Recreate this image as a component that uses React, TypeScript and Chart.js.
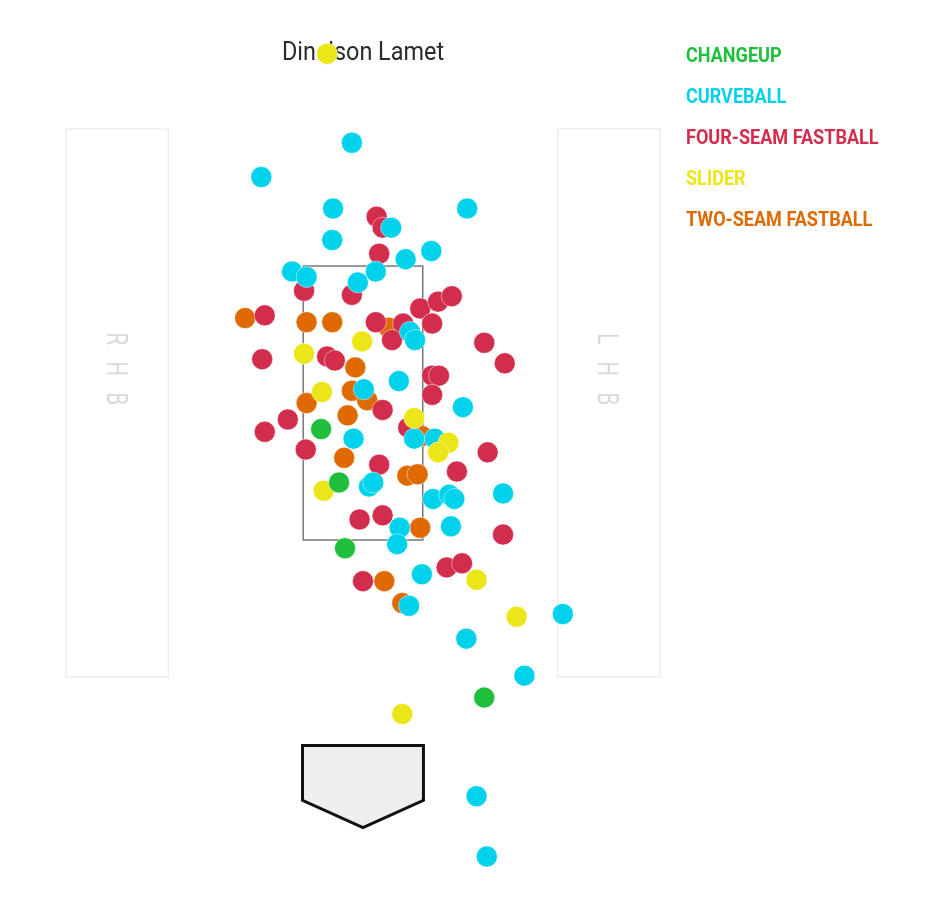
import React, { useEffect, useRef } from "react";
import { Chart, registerables } from "chart.js";

Chart.register(...registerables);

// ---------- data (plate location, feet; catcher's view) ----------
const pitcherName = "Dinelson Lamet";
const pitchTypes = ["CHANGEUP", "CURVEBALL", "FOUR-SEAM FASTBALL", "SLIDER", "TWO-SEAM FASTBALL"];
const pitchColors = ["#1fbe3b", "#00d2ec", "#d22d4c", "#ece618", "#e06a02"];

const changeupX = [-0.49, -0.28, -0.21, 1.42];
const changeupZ = [2.31, 1.92, 1.44, 0.35];

const curveballX = [-0.13, -1.19, -0.35, 1.22, 0.33, -0.36, 0.8, 0.5, -0.83, -0.66, 0.15, -0.06, 0.55, 0.61, 0.42, 0.01, 1.17, -0.11, 0.6, 0.84, 0.07, 0.12, 0.82, 1.01, 1.07, 1.64, 0.43, 1.03, 0.4, 0.69, 0.54, 2.34, 1.21, 1.89, 1.33, 1.45];
const curveballZ = [4.4, 4.15, 3.92, 3.92, 3.78, 3.69, 3.61, 3.55, 3.46, 3.42, 3.46, 3.38, 3.02, 2.96, 2.66, 2.6, 2.47, 2.24, 2.24, 2.24, 1.89, 1.92, 1.8, 1.83, 1.8, 1.84, 1.59, 1.6, 1.47, 1.25, 1.02, 0.96, 0.78, 0.51, -0.37, -0.81];

const fourSeamX = [0.16, 0.23, 0.19, -0.69, -0.13, 0.67, 0.88, 1.04, -1.15, 0.15, 0.47, 0.81, 0.34, 1.42, 1.66, -1.18, -0.42, -0.33, 0.81, 0.89, 0.81, 0.23, -0.88, -1.15, 0.53, -0.67, 1.46, 0.19, 1.1, -0.04, 0.23, 1.64, 0.0, 0.98, 1.16];
const fourSeamZ = [3.86, 3.78, 3.59, 3.32, 3.29, 3.19, 3.24, 3.28, 3.14, 3.09, 3.08, 3.08, 2.96, 2.94, 2.79, 2.82, 2.84, 2.81, 2.7, 2.7, 2.56, 2.45, 2.38, 2.29, 2.32, 2.16, 2.14, 2.05, 2.0, 1.65, 1.68, 1.54, 1.2, 1.3, 1.33];

const sliderX = [-0.42, -0.01, -0.69, -0.48, 0.6, 1.0, 0.88, -0.46, 1.33, 1.8, 0.46];
const sliderZ = [5.05, 2.95, 2.86, 2.58, 2.39, 2.21, 2.14, 1.86, 1.21, 0.94, 0.23];

const twoSeamX = [-1.38, -0.66, -0.36, 0.3, -0.09, -0.13, 0.05, -0.66, -0.18, 0.69, -0.22, 0.52, 0.64, 0.67, 0.25, 0.46];
const twoSeamZ = [3.12, 3.09, 3.09, 3.05, 2.76, 2.59, 2.52, 2.5, 2.41, 2.26, 2.1, 1.97, 1.98, 1.59, 1.2, 1.04];

const seriesX = [changeupX, curveballX, fourSeamX, sliderX, twoSeamX];
const seriesZ = [changeupZ, curveballZ, fourSeamZ, sliderZ, twoSeamZ];
// drawing order: lower = on top
const drawOrder = [0, 2, 3, 1, 4];

// field geometry (feet)
const zoneX = [-0.7, 0.7];
const zoneZ = [1.5, 3.5];
const plateX = [-0.708, 0.708, 0.708, 0, -0.708];
const plateZ = [0, 0, -0.4, -0.6, -0.4];
const boxX = [2.28, 3.48];
const boxZ = [0.5, 4.5];
const boxLabels = ["RHB", "LHB"];
const boxLabelZ = 2.75;

const backdropPlugin = {
  id: "backdrop",
  beforeDatasetsDraw(chart: any) {
    const { ctx } = chart;
    const xs = chart.scales.x;
    const ys = chart.scales.y;
    const px = (v: number) => xs.getPixelForValue(v);
    const py = (v: number) => ys.getPixelForValue(v);
    ctx.save();

    // batter's boxes
    [-1, 1].forEach((side, i) => {
      const a = px(side * boxX[0]);
      const b = px(side * boxX[1]);
      const l = Math.min(a, b);
      const w = Math.abs(b - a);
      const t = py(boxZ[1]);
      const h = py(boxZ[0]) - t;
      ctx.strokeStyle = "#ededed";
      ctx.lineWidth = 1.5;
      ctx.strokeRect(l, t, w, h);

      // vertical label
      const cx = (a + b) / 2;
      const cy = py(boxLabelZ);
      const letters = boxLabels[i].split("");
      const step = 30;
      ctx.fillStyle = "#d9d9d9";
      ctx.font = "400 30px Roboto";
      ctx.textAlign = "center";
      ctx.textBaseline = "alphabetic";
      letters.forEach((ch, k) => {
        const ly = cy + (k - (letters.length - 1) / 2) * step;
        ctx.save();
        ctx.translate(cx, ly);
        ctx.rotate(Math.PI / 2);
        ctx.scale(0.68, 1);
        ctx.fillText(ch, 0, 10.5);
        ctx.restore();
      });
    });

    // strike zone
    ctx.strokeStyle = "#777777";
    ctx.lineWidth = 1.5;
    const zl = px(zoneX[0]);
    const zt = py(zoneZ[1]);
    ctx.strokeRect(zl, zt, px(zoneX[1]) - zl, py(zoneZ[0]) - zt);

    // home plate
    ctx.beginPath();
    plateX.forEach((v, k) => {
      const X = px(v);
      const Y = py(plateZ[k]);
      if (k === 0) ctx.moveTo(X, Y);
      else ctx.lineTo(X, Y);
    });
    ctx.closePath();
    ctx.fillStyle = "#eeeeee";
    ctx.fill();
    ctx.strokeStyle = "#111111";
    ctx.lineWidth = 3;
    ctx.lineJoin = "miter";
    ctx.stroke();

    // title
    ctx.fillStyle = "#2a2a2a";
    ctx.font = "400 26px Roboto";
    ctx.textAlign = "center";
    ctx.textBaseline = "alphabetic";
    ctx.save();
    ctx.translate(px(0), 60);
    ctx.scale(0.9, 1);
    ctx.fillText(pitcherName, 0, 0);
    ctx.restore();

    ctx.restore();
  },
  afterDraw(chart: any) {
    const { ctx } = chart;
    ctx.save();
    ctx.font = "bold 21px Roboto";
    ctx.textAlign = "left";
    ctx.textBaseline = "alphabetic";
    chart.data.datasets.forEach((ds: any, i: number) => {
      ctx.fillStyle = ds.backgroundColor;
      ctx.save();
      ctx.translate(686, 62 + i * 41);
      ctx.scale(0.86, 1);
      ctx.fillText(ds.label, 0, 0);
      ctx.restore();
    });
    ctx.restore();
  },
};

export default function App() {
  const canvasRef = useRef<HTMLCanvasElement | null>(null);

  useEffect(() => {
    if (!canvasRef.current) return;
    const datasets = pitchTypes.map((name, i) => ({
      label: name,
      data: seriesX[i].map((x, k) => ({ x, y: seriesZ[i][k] })),
      backgroundColor: pitchColors[i],
      borderColor: "rgba(255,255,255,0.45)",
      borderWidth: 1,
      pointRadius: 10.5,
      pointHoverRadius: 10.5,
      order: drawOrder[i],
      clip: false as any,
    }));
    const chart = new Chart(canvasRef.current, {
      type: "scatter",
      data: { datasets },
      options: {
        animation: false,
        responsive: true,
        maintainAspectRatio: false,
        events: [],
        layout: { padding: 0, autoPadding: false },
        scales: {
          x: { type: "linear", min: -4.25, max: 6.85, display: false },
          y: { type: "linear", min: -1.113, max: 5.442, display: false },
        },
        plugins: {
          legend: { display: false },
          tooltip: { enabled: false },
          title: { display: false },
        },
      },
      plugins: [backdropPlugin],
    });
    return () => chart.destroy();
  }, []);

  return (
    <div style={{ position: "absolute", left: 0, top: 0, width: 948, height: 898, background: "#fff" }}>
      <canvas ref={canvasRef} />
    </div>
  );
}
